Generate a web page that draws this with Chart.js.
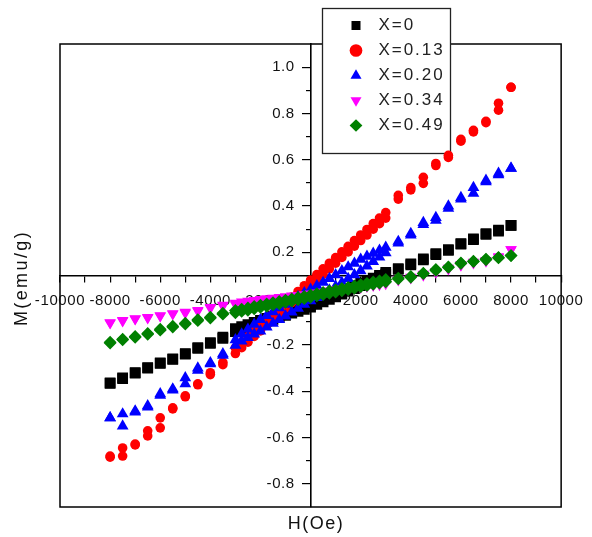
<!DOCTYPE html>
<html><head><meta charset="utf-8">
<script src="https://cdn.jsdelivr.net/npm/chart.js@4/dist/chart.umd.min.js"></script>
<style>html,body{margin:0;padding:0;background:#fff;}</style>
</head><body>
<canvas id="c" width="592" height="537"></canvas>
<script>
const seriesNames = ['X=0', 'X=0.13', 'X=0.20', 'X=0.34', 'X=0.49'];
const seriesColors = ['#000000', '#ff0000', '#0000ff', '#ff00ff', '#008000'];
// applied field H (Oe), descending
const fieldH = [8000,7500,7000,6500,6000,5500,5000,4500,4000,3500,
  3000,2750,2500,2250,2000,1750,1500,1250,1000,750,500,250,0,-250,-500,-750,-1000,-1250,-1500,-1750,-2000,-2250,-2500,-2750,-3000,
  -3500,-4000,-4500,-5000,-5500,-6000,-6500,-7000,-7500,-8000];

// M (emu/g), descending-field branch and ascending-field branch (listed at the same H order)
const mX0Down = [0.316,0.296,0.281,0.258,0.238,0.212,0.194,0.172,0.150,0.130,
  0.113,0.101,0.089,0.078,0.066,0.055,0.043,0.032,0.020,0.010,-0.002,-0.012,-0.025,-0.034,-0.043,-0.051,-0.060,-0.068,-0.077,-0.085,-0.094,-0.103,-0.112,-0.121,-0.130,
  -0.166,-0.190,-0.212,-0.238,-0.260,-0.277,-0.298,-0.320,-0.342,-0.364];
const mX0Up = [0.316,0.292,0.278,0.255,0.235,0.208,0.190,0.168,0.146,0.126,
  0.106,0.093,0.080,0.068,0.056,0.043,0.032,0.020,0.008,-0.003,-0.014,-0.025,-0.037,-0.046,-0.055,-0.063,-0.072,-0.080,-0.089,-0.097,-0.106,-0.115,-0.124,-0.133,-0.142,
  -0.172,-0.193,-0.215,-0.240,-0.262,-0.280,-0.300,-0.322,-0.345,-0.366];

const mX13Down = [0.913,0.844,0.766,0.727,0.688,0.619,0.584,0.524,0.480,0.446,
  0.372,0.348,0.324,0.299,0.275,0.251,0.226,0.202,0.177,0.153,0.129,0.104,0.080,0.056,0.031,0.007,-0.018,-0.042,-0.066,-0.091,-0.115,-0.139,-0.164,-0.188,-0.213,
  -0.275,-0.320,-0.368,-0.420,-0.472,-0.515,-0.571,-0.628,-0.645,-0.680];
const mX13Up = [0.913,0.814,0.760,0.720,0.680,0.610,0.575,0.498,0.470,0.430,
  0.348,0.324,0.300,0.275,0.251,0.227,0.202,0.178,0.153,0.129,0.105,0.080,0.056,0.032,0.007,-0.017,-0.042,-0.066,-0.090,-0.115,-0.139,-0.163,-0.188,-0.212,-0.237,
  -0.285,-0.328,-0.372,-0.424,-0.476,-0.558,-0.593,-0.632,-0.680,-0.685];

const mX20Down = [0.563,0.541,0.511,0.480,0.437,0.400,0.350,0.329,0.281,0.247,
  0.222,0.209,0.196,0.183,0.170,0.153,0.137,0.120,0.103,0.087,0.070,0.055,0.040,0.025,0.008,-0.008,-0.025,-0.040,-0.057,-0.073,-0.090,-0.111,-0.132,-0.153,-0.178,
  -0.238,-0.277,-0.300,-0.342,-0.390,-0.411,-0.463,-0.485,-0.498,-0.515];
const mX20Up = [0.563,0.535,0.505,0.455,0.430,0.390,0.338,0.320,0.275,0.240,
  0.198,0.179,0.160,0.141,0.120,0.103,0.087,0.070,0.053,0.037,0.020,0.005,-0.010,-0.025,-0.042,-0.058,-0.075,-0.090,-0.107,-0.123,-0.140,-0.153,-0.168,-0.183,-0.202,
  -0.245,-0.282,-0.310,-0.368,-0.395,-0.418,-0.468,-0.490,-0.550,-0.515];

const mX34Down = [0.212,0.182,0.166,0.158,0.148,0.132,0.118,0.106,0.093,0.085,
  0.071,0.067,0.063,0.059,0.055,0.051,0.047,0.043,0.039,0.034,0.030,0.025,0.021,0.018,0.015,0.012,0.009,0.006,0.003,0.000,-0.003,-0.007,-0.010,-0.014,-0.019,
  -0.028,-0.037,-0.050,-0.058,-0.064,-0.073,-0.081,-0.086,-0.094,-0.103];
const mX34Up = [0.212,0.178,0.162,0.154,0.145,0.128,0.114,0.102,0.090,0.081,
  0.065,0.061,0.057,0.053,0.049,0.045,0.041,0.037,0.033,0.028,0.024,0.019,0.015,0.012,0.009,0.006,0.003,0.000,-0.003,-0.006,-0.009,-0.013,-0.016,-0.020,-0.025,
  -0.032,-0.041,-0.054,-0.062,-0.066,-0.075,-0.083,-0.088,-0.096,-0.105];

const mX49Down = [0.186,0.178,0.171,0.162,0.154,0.137,0.126,0.110,0.096,0.089,
  0.083,0.077,0.072,0.066,0.061,0.055,0.049,0.044,0.038,0.033,0.027,0.022,0.016,0.010,0.005,-0.001,-0.006,-0.012,-0.017,-0.023,-0.028,-0.034,-0.040,-0.045,-0.051,
  -0.063,-0.080,-0.091,-0.106,-0.119,-0.132,-0.150,-0.163,-0.175,-0.188];
const mX49Up = [0.186,0.176,0.168,0.160,0.152,0.135,0.122,0.108,0.092,0.085,
  0.073,0.067,0.062,0.056,0.051,0.045,0.039,0.034,0.028,0.023,0.017,0.012,0.006,0.000,-0.005,-0.011,-0.016,-0.022,-0.027,-0.033,-0.038,-0.044,-0.050,-0.055,-0.061,
  -0.067,-0.084,-0.095,-0.110,-0.123,-0.136,-0.154,-0.167,-0.178,-0.192];

const xTickValues = [-10000,-9000,-8000,-7000,-6000,-5000,-4000,-3000,-2000,-1000,0,1000,2000,3000,4000,5000,6000,7000,8000,9000,10000];
const xTickLabels = [-10000,-8000,-6000,-4000,-2000,2000,4000,6000,8000,10000];
const yMajorTicks = [-0.8,-0.6,-0.4,-0.2,0,0.2,0.4,0.6,0.8,1.0];
const yMinorTicks = [-0.7,-0.5,-0.3,-0.1,0.1,0.3,0.5,0.7,0.9];
const yTickLabels = [-0.8,-0.6,-0.4,-0.2,0.2,0.4,0.6,0.8,1.0];

const FONT = "'Liberation Sans', Arial, sans-serif";

function loop(down, up) {
  const a = fieldH.map((h, i) => ({x: h, y: down[i]}));
  const b = fieldH.map((h, i) => ({x: h, y: up[i]})).reverse();
  return a.concat(b);
}

const styles = [
  {pointStyle: 'rect', r: 7.6, rot: 0},
  {pointStyle: 'circle', r: 4.8, rot: 0},
  {pointStyle: 'triangle', r: 6.8, rot: 0},
  {pointStyle: 'triangle', r: 6.6, rot: 180},
  {pointStyle: 'rectRot', r: 6.4, rot: 0}
];
const allData = [loop(mX0Down, mX0Up), loop(mX13Down, mX13Up), loop(mX20Down, mX20Up), loop(mX34Down, mX34Up), loop(mX49Down, mX49Up)];

const datasets = seriesNames.map((name, i) => ({
  label: name,
  data: allData[i],
  showLine: false,
  backgroundColor: seriesColors[i],
  borderColor: seriesColors[i],
  borderWidth: 0,
  pointStyle: styles[i].pointStyle,
  pointRadius: styles[i].r,
  pointRotation: styles[i].rot,
  pointBorderWidth: 0,
  order: 5 - i
}));

const LEGEND_BOX = {x: 322, y: 8, w: 128, h: 145};

const framePlugin = {
  id: 'framePlugin',
  afterLayout(chart) {
    const lg = chart.legend;
    if (!lg) return;
    lg.left = LEGEND_BOX.x + 17.5;
    lg.top = LEGEND_BOX.y + 1;
    lg.width = LEGEND_BOX.w - 18;
    lg.height = LEGEND_BOX.h - 2;
    lg.right = lg.left + lg.width;
    lg.bottom = lg.top + lg.height;
    if (!lg._lsPatched) {
      const orig = lg.draw;
      lg.draw = function(...args) {
        const c = this.ctx;
        c.save();
        c.letterSpacing = '2px';
        orig.apply(this, args);
        c.restore();
      };
      lg._lsPatched = true;
    }
  },
  beforeDraw(chart) {
    const {ctx, chartArea: a} = chart;
    ctx.save();
    ctx.strokeStyle = '#000';
    ctx.lineWidth = 1.5;
    ctx.strokeRect(a.left, a.top, a.right - a.left, a.bottom - a.top);
    ctx.fillStyle = '#fff';
    ctx.fillRect(LEGEND_BOX.x, LEGEND_BOX.y, LEGEND_BOX.w, LEGEND_BOX.h);
    ctx.lineWidth = 1.3;
    ctx.strokeStyle = '#222';
    ctx.strokeRect(LEGEND_BOX.x + 0.5, LEGEND_BOX.y + 0.5, LEGEND_BOX.w, LEGEND_BOX.h);
    ctx.restore();
    ctx.letterSpacing = '0.6px';
  },
  afterDraw(chart) {
    const ctx = chart.ctx;
    ctx.save();
    ctx.fillStyle = '#111';
    ctx.font = '18px ' + FONT;
    ctx.textAlign = 'center';
    ctx.textBaseline = 'middle';
    ctx.letterSpacing = '1.5px';
    ctx.fillText('H(Oe)', 316, 524);
    ctx.letterSpacing = '2.4px';
    ctx.translate(22, 278);
    ctx.rotate(-Math.PI / 2);
    ctx.fillText('M(emu/g)', 0, 0);
    ctx.restore();
    ctx.letterSpacing = '0px';
  }
};

new Chart(document.getElementById('c'), {
  type: 'scatter',
  data: {datasets},
  plugins: [framePlugin],
  options: {
    responsive: false,
    animation: false,
    devicePixelRatio: 1,
    layout: {padding: {left: 60, top: 44, right: 22, bottom: 30}},
    plugins: {
      tooltip: {enabled: false},
      legend: {
        display: true,
        position: 'chartArea',
        align: 'start',
        labels: {
          usePointStyle: true,
          boxHeight: 9,
          boxWidth: 17,
          padding: 8,
          color: '#222',
          font: {family: FONT, size: 17},
          generateLabels(chart) {
            const items = Chart.defaults.plugins.legend.labels.generateLabels(chart);
            items.forEach(it => { it.text = '\u2009' + it.text; });
            return items.sort((p, q) => p.datasetIndex - q.datasetIndex);
          }
        }
      }
    },
    scales: {
      x: {
        type: 'linear', min: -10000, max: 10000,
        position: {y: 0.1},
        afterBuildTicks(s) { s.ticks = xTickValues.map(v => ({value: v})); },
        ticks: {
          autoSkip: false, maxRotation: 0, minRotation: 0, padding: 10,
          color: '#111', font: {family: FONT, size: 15},
          callback(v) { return xTickLabels.includes(v) ? String(v) : ''; }
        },
        grid: {drawOnChartArea: false, drawTicks: true, tickLength: 6, color: '#000', lineWidth: 1.2},
        border: {display: true, color: '#000', width: 1.6}
      },
      y: {
        type: 'linear', min: -0.9, max: 1.1,
        position: {x: 0},
        afterBuildTicks(s) { s.ticks = yMajorTicks.map(v => ({value: v})); },
        ticks: {autoSkip: false, callback() { return ''; }},
        grid: {drawOnChartArea: false, drawTicks: true, tickLength: 8, color: '#000', lineWidth: 1.2},
        border: {display: true, color: '#000', width: 1.6}
      },
      yMinor: {
        type: 'linear', axis: 'y', min: -0.9, max: 1.1,
        position: {x: 0},
        afterBuildTicks(s) { s.ticks = yMinorTicks.map(v => ({value: v})); },
        ticks: {autoSkip: false, callback() { return ''; }},
        grid: {drawOnChartArea: false, drawTicks: true, tickLength: 5, color: '#000', lineWidth: 1.2},
        border: {display: false}
      },
      yLabels: {
        type: 'linear', axis: 'y', min: -0.9, max: 1.1,
        position: {x: -630},
        afterBuildTicks(s) { s.ticks = yTickLabels.map(v => ({value: v})); },
        ticks: {autoSkip: false, padding: 0, color: '#111', font: {family: FONT, size: 15},
          callback(v) { return v.toFixed(1); }},
        grid: {display: false, drawTicks: false},
        border: {display: false}
      }
    }
  }
});
</script>
</body></html>
